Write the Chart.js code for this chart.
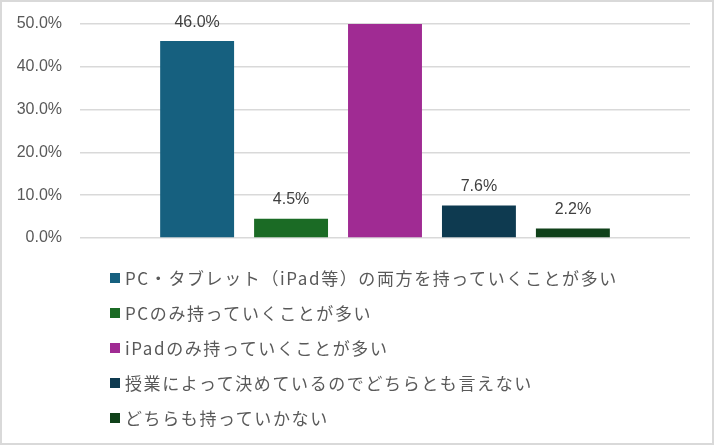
<!DOCTYPE html>
<html>
<head>
<meta charset="utf-8">
<script src="https://cdn.jsdelivr.net/npm/chart.js@4/dist/chart.umd.min.js"></script>
<style>
  html, body { margin: 0; padding: 0; background: #fff; }
  #frame {
    position: relative;
    width: 714px; height: 445px;
    box-sizing: border-box;
    border: 2px solid #d9d9d9;
    overflow: hidden;
  }
  #wrap { position: absolute; left: -2px; top: -2px; width: 714px; height: 447px; }
  #legend { position: absolute; left: 108px; top: 258px; margin: 0; padding: 0; list-style: none; }
  #legend li {
    height: 35px; display: flex; align-items: center;
    font-family: "Noto Sans CJK JP", "Noto Sans", sans-serif;
    font-size: 17px; letter-spacing: 1.6px; color: #595959;
  }
  #legend .box { width: 10px; height: 10px; margin-right: 5px; flex: none; }
</style>
</head>
<body>
<div id="frame">
  <div id="wrap"><canvas id="chart"></canvas></div>
  <ul id="legend"></ul>
</div>
<script>
const categories = [''];
const seriesLabels = [
  'PC・タブレット（iPad等）の両方を持っていくことが多い',
  'PCのみ持っていくことが多い',
  'iPadのみ持っていくことが多い',
  '授業によって決めているのでどちらとも言えない',
  'どちらも持っていかない'
];
const seriesValues = [46.0, 4.5, 51.0, 7.6, 2.2];
const seriesColors = ['#16607f', '#1b6b25', '#a02b93', '#0e3a50', '#10411a'];
const yMax = 50;
const yStep = 10;

// value labels above bars (skipped when the bar runs past the axis max)
const barLabels = {
  id: 'barLabels',
  afterDatasetsDraw(chart) {
    const ctx = chart.ctx;
    ctx.save();
    ctx.font = '16px "Liberation Sans", Arial, sans-serif';
    ctx.fillStyle = '#404040';
    ctx.textAlign = 'center';
    ctx.textBaseline = 'middle';
    chart.data.datasets.forEach((ds, i) => {
      const v = ds.data[0];
      if (v > yMax) return;
      const bar = chart.getDatasetMeta(i).data[0];
      ctx.fillText(v.toFixed(1) + '%', bar.x, bar.y - 19);
    });
    ctx.restore();
  }
};

const chart = new Chart(document.getElementById('chart'), {
  type: 'bar',
  data: {
    labels: categories,
    datasets: seriesLabels.map((label, i) => ({
      label: label,
      data: [seriesValues[i]],
      backgroundColor: seriesColors[i],
      barPercentage: 0.787,
      categoryPercentage: 0.77
    }))
  },
  options: {
    responsive: true,
    maintainAspectRatio: false,
    animation: false,
    layout: { padding: { top: 24, right: 24, bottom: 209, left: 0 } },
    scales: {
      x: { display: false },
      y: {
        min: 0,
        max: yMax,
        afterFit(scale) {
          scale.width = 80;
          scale.paddingTop = 0;
          scale.paddingBottom = 0;
        },
        border: { display: false },
        grid: { color: '#d9d9d9', lineWidth: 1.5, drawTicks: false },
        ticks: {
          stepSize: yStep,
          padding: 18,
          color: '#595959',
          font: { family: '"Liberation Sans", Arial, sans-serif', size: 16 },
          callback: v => v.toFixed(1) + '%'
        }
      }
    },
    plugins: {
      legend: { display: false },
      tooltip: { enabled: false }
    }
  },
  plugins: [barLabels]
});

// legend: one entry per row, drawn from the chart's datasets
const legendEl = document.getElementById('legend');
chart.data.datasets.forEach(ds => {
  const li = document.createElement('li');
  const box = document.createElement('span');
  box.className = 'box';
  box.style.background = ds.backgroundColor;
  li.appendChild(box);
  li.appendChild(document.createTextNode(ds.label));
  legendEl.appendChild(li);
});
</script>
</body>
</html>
